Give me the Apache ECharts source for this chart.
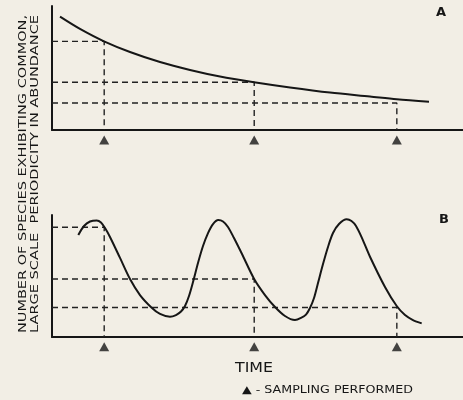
<!DOCTYPE html>
<html>
<head>
<meta charset="utf-8">
<script src="https://cdn.jsdelivr.net/npm/echarts@6/dist/echarts.min.js"></script>
<style>
  html, body { margin: 0; padding: 0; background: #f2eee5; }
  #chart { width: 463px; height: 400px; }
</style>
</head>
<body>
<div id="chart"></div>
<script>
// time runs 0..100 across each panel, abundance 0..100 up each panel
var timeA = [1.95, 6.81, 12.65, 18.98, 26.28, 33.58, 40.88, 49.15, 57.91, 67.64, 77.37, 83.87, 91.73];
var abundA = [91.4, 81.5, 71.5, 62.9, 54.8, 48.4, 43.1, 38.5, 34.3, 30.2, 27.0, 24.8, 22.8];

var timeB = [6.40, 7.79, 9.25, 10.88, 11.92, 12.90, 14.11, 16.55, 18.98, 21.41, 24.26, 26.28,
  28.71, 30.17, 31.39, 32.36, 33.33, 34.31, 35.52, 36.74, 37.96, 39.17,
  40.46, 41.61, 42.82, 44.28, 46.23, 49.15, 51.82, 54.26, 56.69,
  59.12, 60.58, 61.80, 62.77, 63.75, 64.72, 65.94, 67.15, 68.37, 69.83,
  71.70, 72.87, 73.97, 75.43, 77.37, 81.02, 83.87, 85.89, 87.83, 89.95];
var abundB = [83.6, 91.0, 94.7, 95.5, 93.9, 89.3, 82.0, 64.8, 47.5, 34.4, 24.0, 18.9,
  16.6, 18.0, 20.9, 25.4, 33.6, 45.1, 60.7, 74.6, 85.2, 92.6,
  95.9, 94.7, 90.2, 81.1, 68.0, 47.8, 34.4, 24.6, 17.2,
  13.9, 15.6, 18.4, 23.8, 32.0, 44.3, 59.8, 73.8, 85.2, 92.6,
  96.5, 95.1, 91.0, 81.1, 65.8, 41.0, 25.4, 18.0, 13.9, 11.2];

var sampleTimes = [12.7, 49.2, 83.9];
var levelsA = [71.5, 38.5, 21.8];
var levelsB = [89.9, 47.5, 24.2];

var panelNames = ['A', 'B'];
var yTitle = ['NUMBER OF SPECIES EXHIBITING COMMON,', 'LARGE SCALE  PERIODICITY IN ABUNDANCE'];
var xTitle = 'TIME';
var legendText = '▲ - SAMPLING PERFORMED';

var ink = '#161616';
var font = '"DejaVu Sans", sans-serif';
var markY = -8;

// stretch a text so it covers a given length (the print uses a wide letter spacing)
function stretch(text, f, target) {
  var ctx = document.createElement('canvas').getContext('2d');
  ctx.font = f;
  return target / ctx.measureText(text).width;
}

function zip(xs, ys) {
  return xs.map(function (x, i) { return [x, ys[i]]; });
}

function panelSeries(idx, times, values, levels) {
  var list = [];
  list.push({
    type: 'line',
    xAxisIndex: idx,
    yAxisIndex: idx,
    data: zip(times, values),
    smooth: 0.3,
    showSymbol: false,
    lineStyle: { color: ink, width: 2 },
    z: 3
  });
  sampleTimes.forEach(function (t, k) {
    list.push({
      type: 'line',
      xAxisIndex: idx,
      yAxisIndex: idx,
      data: [[0, levels[k]], [t, levels[k]], [t, 0]],
      showSymbol: false,
      lineStyle: { color: '#222', width: 1.4, type: [6, 4] },
      z: 2
    });
  });
  list.push({
    type: 'scatter',
    xAxisIndex: idx,
    yAxisIndex: idx,
    data: sampleTimes.map(function (t) { return [t, markY]; }),
    symbol: 'triangle',
    symbolSize: [10, 9],
    clip: false,
    itemStyle: { color: ink }
  });
  return list;
}

var chart = echarts.init(document.getElementById('chart'), null, { renderer: 'canvas' });

var axisLine = { show: true, lineStyle: { color: ink, width: 2 } };

var titleFont = '11px ' + font;
var timeFont = '14px ' + font;
var legendFont = '10.5px ' + font;

var option = {
  backgroundColor: '#f2eee5',
  animation: false,
  grid: [
    { left: 52, top: 6, right: 0, height: 124 },
    { left: 52, top: 215, right: 0, height: 122 }
  ],
  xAxis: [0, 1].map(function (i) {
    return {
      type: 'value', gridIndex: i, min: 0, max: 100,
      axisLine: axisLine, axisTick: { show: false }, axisLabel: { show: false }, splitLine: { show: false }
    };
  }),
  yAxis: [0, 1].map(function (i) {
    return {
      type: 'value', gridIndex: i, min: 0, max: 100,
      axisLine: axisLine, axisTick: { show: false }, axisLabel: { show: false }, splitLine: { show: false }
    };
  }),
  series: panelSeries(0, timeA, abundA, levelsA).concat(panelSeries(1, timeB, abundB, levelsB)),
  graphic: [
    {
      type: 'text', x: 441, y: 13,
      style: { text: panelNames[0], font: 'bold 13px ' + font, fill: ink, textAlign: 'center', textVerticalAlign: 'middle' }
    },
    {
      type: 'text', x: 444, y: 220,
      style: { text: panelNames[1], font: 'bold 13px ' + font, fill: ink, textAlign: 'center', textVerticalAlign: 'middle' }
    },
    {
      type: 'text', x: 23, y: 174, rotation: Math.PI / 2,
      scaleX: stretch(yTitle[0], titleFont, 318),
      style: { text: yTitle[0], font: titleFont, fill: ink, textAlign: 'center', textVerticalAlign: 'middle' }
    },
    {
      type: 'text', x: 35, y: 174, rotation: Math.PI / 2,
      scaleX: stretch(yTitle[1], titleFont, 318),
      style: { text: yTitle[1], font: titleFont, fill: ink, textAlign: 'center', textVerticalAlign: 'middle' }
    },
    {
      type: 'text', x: 254, y: 368,
      scaleX: stretch(xTitle, timeFont, 38),
      style: { text: xTitle, font: timeFont, fill: ink, textAlign: 'center', textVerticalAlign: 'middle' }
    },
    {
      type: 'text', x: 242, y: 390,
      scaleX: stretch(legendText, legendFont, 171),
      style: { text: legendText, font: legendFont, fill: ink, textAlign: 'left', textVerticalAlign: 'middle' }
    }
  ]
};

chart.setOption(option);
</script>
</body>
</html>
